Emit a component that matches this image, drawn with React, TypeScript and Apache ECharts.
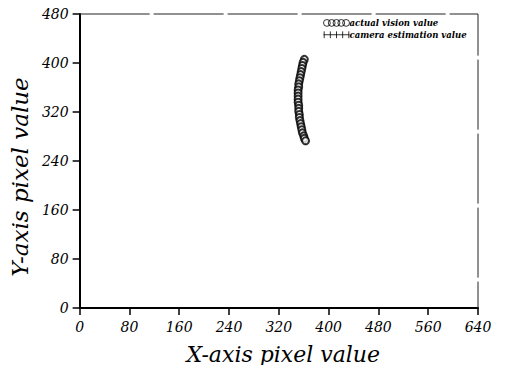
import React, { useEffect, useRef } from "react";
import * as echarts from "echarts";

const xTicks = [0, 80, 160, 240, 320, 400, 480, 560, 640];
const yTicks = [0, 80, 160, 240, 320, 400, 480];

const seriesNames = ["actual vision value", "camera estimation value"];

const actualX = [361, 359, 358, 357, 356, 355, 354, 353, 352, 352, 351, 351, 351, 351, 351, 352, 352, 352, 353, 353, 354, 355, 356, 357, 358, 360, 361, 363];
const actualY = [406, 401, 396, 391, 386, 381, 376, 371, 366, 361, 356, 351, 346, 341, 336, 331, 326, 321, 316, 311, 306, 301, 296, 291, 286, 281, 277, 273];

const cameraX = [360, 359, 357, 357, 355, 355, 353, 353, 352, 351, 351, 350, 351, 350, 351, 351, 352, 353, 353, 354, 354, 356, 356, 358, 358, 360, 362, 363];
const cameraY = [405, 400, 395, 390, 385, 380, 375, 370, 365, 360, 355, 350, 345, 340, 335, 330, 325, 320, 315, 310, 305, 300, 295, 290, 285, 280, 276, 272];

const circlesIcon =
  "path://M0,5a5,5 0 1,0 10,0a5,5 0 1,0 -10,0M7,5a5,5 0 1,0 10,0a5,5 0 1,0 -10,0M14,5a5,5 0 1,0 10,0a5,5 0 1,0 -10,0M21,5a5,5 0 1,0 10,0a5,5 0 1,0 -10,0M28,5a5,5 0 1,0 10,0a5,5 0 1,0 -10,0";
const crossesIcon =
  "path://M0,5L38,5M1,0L1,10M10,0L10,10M19,0L19,10M28,0L28,10M37,0L37,10";
const crossSymbol = "path://M0,5L10,5M5,0L5,10";

const serif = "'DejaVu Serif', 'Liberation Serif', serif";

export default function App() {
  const ref = useRef<HTMLDivElement>(null);
  useEffect(() => {
    if (!ref.current) return;
    const chart = echarts.init(ref.current, undefined, { renderer: "svg" });
    const toPairs = (xs: number[], ys: number[]) => xs.map((x, i) => [x, ys[i]]);
    chart.setOption({
      animation: false,
      backgroundColor: "#fff",
      grid: { left: 79, right: 29, top: 14, bottom: 65, containLabel: false },
      legend: {
        top: 17,
        left: 321,
        orient: "vertical",
        itemGap: 0,
        itemWidth: 26,
        itemHeight: 7,
        padding: 0,
        textStyle: {
          fontFamily: serif,
          fontStyle: "italic",
          fontWeight: "bold",
          fontSize: 8.5,
          lineHeight: 9,
          color: "#000",
          padding: [0, 0, 0, -5],
        },
        data: [
          {
            name: seriesNames[0],
            icon: circlesIcon,
            itemStyle: { color: "none", borderColor: "#000", borderWidth: 1 },
          },
          {
            name: seriesNames[1],
            icon: crossesIcon,
            itemStyle: { color: "none", borderColor: "#000", borderWidth: 1 },
          },
        ],
      },
      xAxis: {
        type: "value",
        min: 0,
        max: 640,
        interval: 80,
        name: "X-axis pixel value",
        nameLocation: "middle",
        nameGap: 35,
        nameTextStyle: {
          fontFamily: serif,
          fontStyle: "italic",
          fontSize: 22,
          color: "#000",
          padding: [0, 0, 0, 9],
        },
        axisLine: { show: true, onZero: false, lineStyle: { color: "#000", width: 2 } },
        axisTick: { show: true, length: 7, lineStyle: { color: "#000", width: 1.5 } },
        axisLabel: {
          margin: 12,
          fontFamily: serif,
          fontStyle: "italic",
          fontSize: 14,
          color: "#000",
          formatter: (v: number) => (xTicks.includes(v) ? String(v) : ""),
        },
        splitLine: { show: false },
      },
      yAxis: {
        type: "value",
        min: 0,
        max: 480,
        interval: 80,
        name: "Y-axis pixel value",
        nameLocation: "middle",
        nameGap: 47,
        nameRotate: 90,
        nameTextStyle: {
          fontFamily: serif,
          fontStyle: "italic",
          fontSize: 23,
          color: "#000",
          padding: [0, 32, 0, 0],
        },
        axisLine: { show: true, onZero: false, lineStyle: { color: "#000", width: 2 } },
        axisTick: { show: true, length: 7, lineStyle: { color: "#000", width: 1.5 } },
        axisLabel: {
          margin: 11,
          fontFamily: serif,
          fontStyle: "italic",
          fontSize: 14,
          color: "#000",
          formatter: (v: number) => (yTicks.includes(v) ? String(v) : ""),
        },
        splitLine: { show: false },
      },
      series: [
        {
          name: seriesNames[0],
          type: "scatter",
          symbol: "emptyCircle",
          symbolSize: 7,
          itemStyle: { color: "#000", borderColor: "#000", borderWidth: 1 },
          data: toPairs(actualX, actualY),
          z: 3,
        },
        {
          name: seriesNames[1],
          type: "scatter",
          symbol: crossSymbol,
          symbolSize: 7,
          itemStyle: { color: "none", borderColor: "#000", borderWidth: 1 },
          data: toPairs(cameraX, cameraY),
          z: 2,
        },
        {
          name: "frame",
          type: "line",
          silent: true,
          clip: false,
          symbol: "none",
          lineStyle: { color: "#222", width: 1, type: [70, 4] },
          data: [
            [0, 480],
            [640, 480],
            [640, 0],
          ],
          z: 1,
        },
      ],
    });
    return () => chart.dispose();
  }, []);
  return <div ref={ref} style={{ width: 507, height: 373, margin: -8 }} />;
}
